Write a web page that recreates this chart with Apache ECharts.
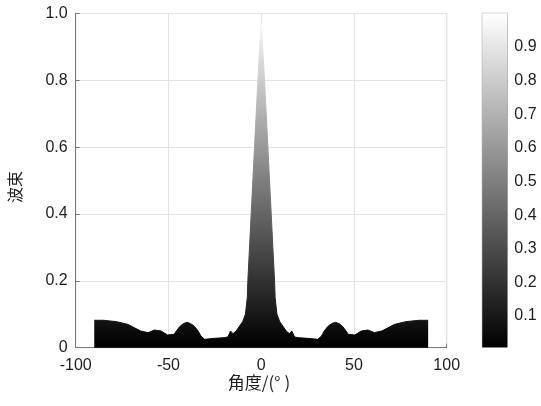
<!DOCTYPE html>
<html>
<head>
<meta charset="utf-8">
<script src="https://cdn.jsdelivr.net/npm/echarts@6/dist/echarts.min.js"></script>
<style>
html,body{margin:0;padding:0;background:#fff;}
#c{width:541px;height:406px;}
</style>
</head>
<body>
<div id="c"></div>
<script>
// Beam pattern envelope (angle in degrees, normalized beam)
var angles = [-90, -85, -78, -72, -65, -61, -57.5, -54, -50.5, -47, -44, -42, -40, -38, -36, -34, -32.5, -30.5, -25, -20, -18, -16.5, -15.2, -13.5, -12, -10, -8.5, -7.5, -7.2, -5.4, -3.6, -1.8, -0.8, 0,
              0.8, 1.8, 3.6, 5.4, 7.2, 7.5, 8.5, 10, 12, 13.5, 15.2, 16.5, 18, 20, 25, 30.5, 32.5, 34, 36, 38, 40, 42, 44, 47, 50.5, 54, 57.5, 61, 65, 72, 78, 85, 90];
var beam = [0.082, 0.082, 0.078, 0.070, 0.050, 0.045, 0.053, 0.050, 0.038, 0.040, 0.063, 0.072, 0.076, 0.072, 0.064, 0.050, 0.035, 0.025, 0.028, 0.030, 0.032, 0.050, 0.042, 0.050, 0.062, 0.078, 0.10, 0.15, 0.20, 0.40, 0.60, 0.80, 0.90, 0.97,
            0.90, 0.80, 0.60, 0.40, 0.20, 0.15, 0.10, 0.078, 0.062, 0.050, 0.042, 0.050, 0.032, 0.030, 0.028, 0.025, 0.035, 0.050, 0.064, 0.072, 0.076, 0.072, 0.063, 0.040, 0.038, 0.050, 0.053, 0.045, 0.050, 0.070, 0.078, 0.082, 0.082];
var xTicks = [-100, -50, 0, 50, 100];
var yTicks = [0, 0.2, 0.4, 0.6, 0.8, 1.0];
var cbarTicks = [0.1, 0.2, 0.3, 0.4, 0.5, 0.6, 0.7, 0.8, 0.9];
var cbarRange = [0.007, 1.0];

var pts = angles.map(function (a, i) { return [a, beam[i]]; });
var latin = '"Liberation Sans", Arial, "DejaVu Sans", sans-serif';
var cjk = '"Noto Sans CJK SC", "Liberation Sans", sans-serif';

var chart = echarts.init(document.getElementById('c'), null, {renderer: 'canvas'});
chart.setOption({
  animation: false,
  backgroundColor: '#ffffff',
  grid: [
    {left: 75.7, top: 13.5, width: 371, height: 334.2, show: true, borderColor: '#d0d0d0', borderWidth: 1, backgroundColor: '#fff'},
    {left: 482.3, top: 13.3, width: 25, height: 334, show: true, borderColor: '#9a9a9a', borderWidth: 1}
  ],
  visualMap: [{
    type: 'continuous', show: false, seriesIndex: 0, dimension: 1,
    min: cbarRange[0], max: cbarRange[1],
    inRange: {color: ['#000000', '#ffffff']}
  }],
  xAxis: [
    {
      type: 'value', gridIndex: 0, min: xTicks[0], max: xTicks[xTicks.length - 1], interval: 50,
      axisLine: {show: true, onZero: false, lineStyle: {color: '#7a7a7a', width: 1}},
      axisTick: {show: true, inside: true, length: 4, lineStyle: {color: '#7a7a7a'}},
      axisLabel: {color: '#1e1e1e', fontSize: 16, fontFamily: latin, margin: 10},
      splitLine: {show: true, lineStyle: {color: '#e3e3e3', width: 1}}
    },
    {type: 'category', gridIndex: 1, data: ['c'], show: false}
  ],
  yAxis: [
    {
      type: 'value', gridIndex: 0, min: yTicks[0], max: yTicks[yTicks.length - 1], interval: 0.2,
      axisLine: {show: true, onZero: false, lineStyle: {color: '#7a7a7a', width: 1}},
      axisTick: {show: true, inside: true, length: 4, lineStyle: {color: '#7a7a7a'}},
      axisLabel: {color: '#1e1e1e', fontSize: 16, fontFamily: latin, margin: 8,
        formatter: function (v) { return v === 0 ? '0' : v.toFixed(1); }},
      splitLine: {show: true, lineStyle: {color: '#e3e3e3', width: 1}}
    },
    {
      type: 'value', gridIndex: 1, position: 'right', min: cbarRange[0], max: cbarRange[1],
      axisLine: {show: false, onZero: false},
      axisTick: {show: true, inside: true, length: 3, customValues: cbarTicks, lineStyle: {color: '#444'}},
      axisLabel: {color: '#1e1e1e', fontSize: 16, fontFamily: latin, margin: 7, customValues: cbarTicks,
        formatter: function (v) { return v.toFixed(1); }},
      splitLine: {show: false}
    }
  ],
  series: [
    {
      type: 'line', xAxisIndex: 0, yAxisIndex: 0, data: pts,
      showSymbol: false, smooth: false,
      lineStyle: {width: 1},
      areaStyle: {opacity: 1}
    },
    {
      type: 'bar', xAxisIndex: 1, yAxisIndex: 1, data: [cbarRange[1]], barWidth: '100%',
      itemStyle: {color: {type: 'linear', x: 0, y: 0, x2: 0, y2: 1,
        colorStops: [{offset: 0, color: '#ffffff'}, {offset: 1, color: '#000000'}]}}
    }
  ],
  graphic: [
    {type: 'text', x: 15, y: 187, rotation: Math.PI / 2,
      style: {text: '波束', font: '16px ' + cjk, fill: '#1e1e1e', align: 'center', verticalAlign: 'middle'}},
    {type: 'text', x: 259, y: 383,
      style: {text: '角度/(° )', font: '17px ' + cjk, fill: '#1e1e1e', align: 'center', verticalAlign: 'middle'}}
  ]
});
</script>
</body>
</html>
